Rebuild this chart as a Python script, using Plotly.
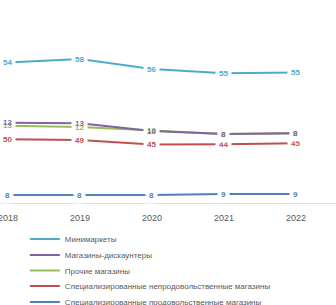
import plotly.graph_objects as go

years = ["2018", "2019", "2020", "2021", "2022"]

# series names (legend order)
names = [
    "Минимаркеты",
    "Магазины-дискаунтеры",
    "Прочие магазины",
    "Специализированные непродовольственные магазины",
    "Специализированные продовольственные магазины",
]

# data labels shown on the chart
minimarkets_lbl = [54, 58, 56, 55, 55]
discounters_lbl = [12, 13, 10, 8, 8]
other_lbl = [13, 12, 12, 8, 8]
nonfood_lbl = [50, 49, 45, 44, 45]
food_lbl = [8, 8, 8, 9, 9]

# plotted line levels (the axis itself is hidden)
minimarkets_y = [137.5, 141, 131, 126.7, 127.5]
discounters_y = [77.3, 76.7, 69, 66, 66.7]
other_y = [74.3, 73, 69.5, 66, 66.7]
nonfood_y = [60.7, 60, 55.5, 55.7, 56.7]
food_y = [5, 5, 5, 6, 6]

colors = ["#4bacc6", "#8064a2", "#9bbb59", "#c0504d", "#4f81bd"]

series = [
    (names[0], minimarkets_y, minimarkets_lbl, colors[0]),
    (names[1], discounters_y, discounters_lbl, colors[1]),
    (names[2], other_y, other_lbl, colors[2]),
    (names[3], nonfood_y, nonfood_lbl, colors[3]),
    (names[4], food_y, food_lbl, colors[4]),
]

legend_ids = ["legend", "legend2", "legend3", "legend4", "legend5"]
legend_y = [-0.177, -0.256, -0.332, -0.409, -0.488]

# drawing order (bottom to top)
draw_order = [4, 3, 2, 1, 0]

fig = go.Figure()
for i in draw_order:
    name, ys, lbl, col = series[i]
    fig.add_trace(go.Scatter(
        x=years, y=ys, mode="lines", name=name,
        line=dict(color=col, width=2),
        legend=legend_ids[i],
        hoverinfo="skip",
    ))

annotations = []
for i in draw_order:
    name, ys, lbl, col = series[i]
    for j, (y, t) in enumerate(zip(ys, lbl)):
        annotations.append(dict(
            x=j, y=y, xref="x", yref="y", text="<b>%s</b>" % t, showarrow=False,
            font=dict(family="Liberation Sans", size=8, color=col),
            bgcolor="white" if i != 1 else "rgba(0,0,0,0)",
            borderpad=3,
        ))

legend_style = dict(
    orientation="v", x=0.074, xanchor="left", yanchor="middle",
    font=dict(family="Liberation Sans", size=8, color="#595959"),
    itemwidth=30, bgcolor="rgba(0,0,0,0)",
)
layout_legends = {}
for lid, ly in zip(legend_ids, legend_y):
    layout_legends[lid] = dict(legend_style, y=ly)

fig.update_layout(
    width=336, height=305,
    margin=dict(l=0, r=0, t=0, b=102, autoexpand=False),
    paper_bgcolor="white", plot_bgcolor="white",
    showlegend=True,
    annotations=annotations,
    **layout_legends,
)
fig.update_xaxes(
    type="category", range=[-0.111, 4.556],
    showgrid=False, showline=True, linecolor="#d9d9d9", linewidth=1,
    ticks="", ticklabelstandoff=6,
    tickfont=dict(family="Liberation Sans", size=9, color="#595959"),
    zeroline=False, fixedrange=True,
)
fig.update_yaxes(
    range=[-3, 200], visible=False, showgrid=False, zeroline=False, fixedrange=True,
)

fig.write_html("out.html", config={"displayModeBar": False},
               post_script="document.body.style.margin='0';")
